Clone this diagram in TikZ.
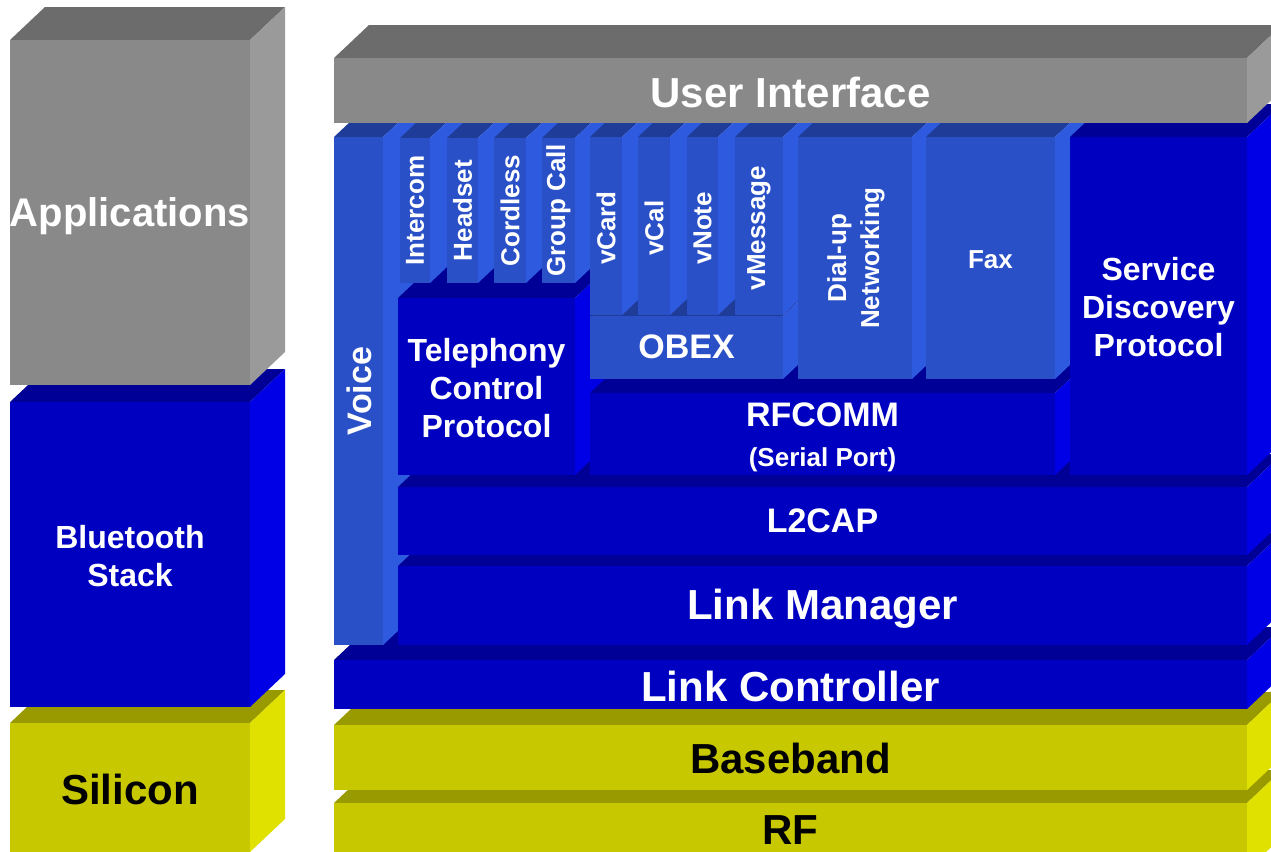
\documentclass[tikz,border=0pt]{standalone}
\usepackage{fontspec}
\setmainfont{Liberation Sans}
\definecolor{gryfront}{RGB}{137,137,137}
\definecolor{grytop}{RGB}{108,108,108}
\definecolor{gryside}{RGB}{154,154,154}
\definecolor{blufront}{RGB}{0,0,192}
\definecolor{blutop}{RGB}{0,0,150}
\definecolor{bluside}{RGB}{0,0,230}
\definecolor{medfront}{RGB}{42,80,200}
\definecolor{medtop}{RGB}{31,60,152}
\definecolor{medside}{RGB}{46,90,224}
\definecolor{yelfront}{RGB}{200,200,0}
\definecolor{yeltop}{RGB}{153,153,0}
\definecolor{yelside}{RGB}{225,225,0}
\newcommand{\depx}{35}
\newcommand{\depy}{33}
% one block: front top-left x,y / front bottom-right x,y / palette
\newcommand{\slab}[5]{%
  \fill[#5top] (#1,#2) -- (#1+\depx,#2-\depy) -- (#3+\depx,#2-\depy) -- (#3,#2) -- cycle;
  \fill[#5side] (#3,#2) -- (#3+\depx,#2-\depy) -- (#3+\depx,#4-\depy) -- (#3,#4) -- cycle;
  \fill[#5front] (#1,#2) rectangle (#3,#4);
}
\tikzset{
  lbl/.style={text=white,align=center,inner sep=0pt},
  darklbl/.style={lbl,text=black},
  bigtxt/.style={font=\fontsize{21}{25}\selectfont\bfseries},
  midtxt/.style={font=\fontsize{16}{19}\selectfont\bfseries},
  obtxt/.style={font=\fontsize{17}{20}\selectfont\bfseries},
  smalltxt/.style={font=\fontsize{13}{16.5}\selectfont\bfseries},
  uptxt/.style={lbl,smalltxt,rotate=90}
}

\begin{document}
\begin{tikzpicture}[x=0.5pt,y=-0.5pt]
\useasboundingbox (0,0) rectangle (1271,852);
\clip (0,0) rectangle (1271,852);
% left column
\slab{10}{723}{250}{852}{yel}
\slab{10}{402}{250}{707}{blu}
\slab{10}{40}{250}{385}{gry}
% right stack, bottom up
\slab{334}{803}{1247}{870}{yel}
\slab{334}{725}{1247}{790}{yel}
\slab{334}{660}{1247}{709}{blu}
\slab{334}{137}{383}{645}{med}
\slab{398}{566}{1247}{645}{blu}
\slab{398}{487}{1247}{555}{blu}
\slab{398}{298}{575}{475}{blu}
\slab{590}{393}{1055}{475}{blu}
% profiles
\slab{400}{138}{430}{283}{med}
\slab{447}{138}{478}{283}{med}
\slab{494}{138}{526}{283}{med}
\slab{542}{138}{575}{283}{med}
\slab{590}{316}{783}{379}{med}
\slab{590}{137}{622}{315}{med}
\slab{638}{137}{670}{315}{med}
\slab{687}{137}{718}{315}{med}
\slab{735}{137}{783}{315}{med}
\slab{798}{137}{912}{379}{med}
\slab{926}{137}{1055}{379}{med}
\slab{1070}{137}{1247}{475}{blu}
\slab{334}{58}{1247}{123}{gry}

% labels
\node[lbl,font=\fontsize{20}{24}\selectfont\bfseries] (apps) at (130,216) {Applications};
\node[lbl,midtxt] (btstack) at (130,556) {Bluetooth\\Stack};
\node[darklbl,bigtxt] (silicon) at (130,789) {Silicon};
\node[lbl,bigtxt] (ui) at (790.5,92) {User Interface};
\node[lbl,obtxt,rotate=90] (voice) at (359,391) {Voice};
\node[uptxt] (intercom) at (415,210.5) {Intercom};
\node[uptxt] (headset) at (462.5,210.5) {Headset};
\node[uptxt] (cordless) at (510,210.5) {Cordless};
\node[uptxt] (groupcall) at (558.5,210.5) {Group Call};
\node[uptxt] (vcard) at (606,228) {vCard};
\node[uptxt] (vcal) at (654,228) {vCal};
\node[uptxt] (vnote) at (702.5,228) {vNote};
\node[uptxt] (vmsg) at (759,228) {vMessage};
\node[uptxt] (dialup) at (856,258) {Dial-up\\Networking};
\node[lbl,smalltxt] (fax) at (990.5,260) {Fax};
\node[lbl,midtxt] (sdp) at (1158.5,307) {Service\\Discovery\\Protocol};
\node[lbl,midtxt] (tcp) at (486.5,388) {Telephony\\Control\\Protocol};
\node[lbl,obtxt] (obex) at (686.5,347) {OBEX};
\node[lbl,obtxt] (rfcomm) at (822.5,437) {RFCOMM\\[0pt]{\fontsize{13}{15}\selectfont(Serial Port)}};
\node[lbl,obtxt] (l2cap) at (822.5,521) {L2CAP};
\node[lbl,bigtxt] (lm) at (822.5,609) {Link Manager};
\node[lbl,bigtxt] (lc) at (790.5,686) {Link Controller};
\node[darklbl,bigtxt] (bb) at (790.5,758) {Baseband};
\node[darklbl,bigtxt] (rf) at (790.5,830) {RF};
\end{tikzpicture}
\end{document}
